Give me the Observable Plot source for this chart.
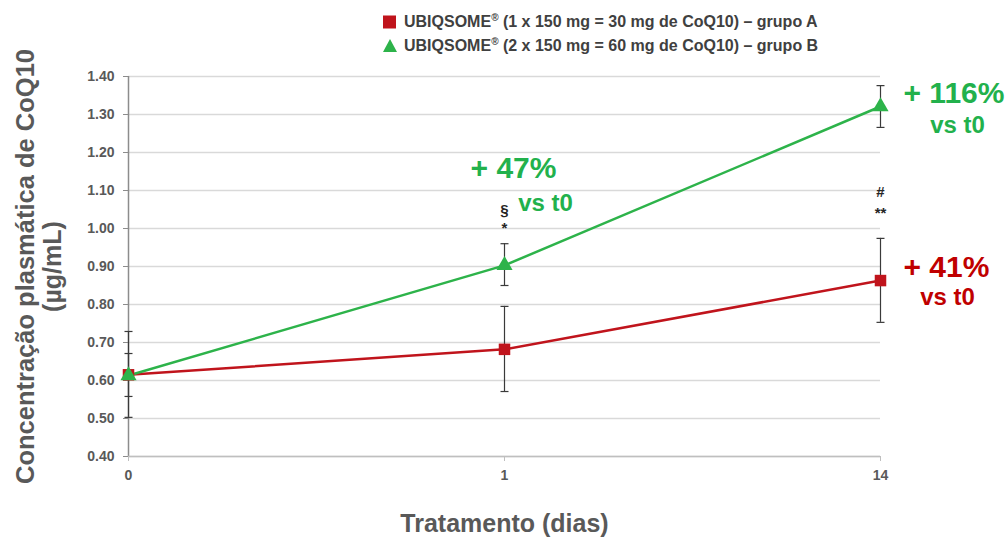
<!DOCTYPE html>
<html>
<head>
<meta charset="utf-8">
<script src="https://cdn.jsdelivr.net/npm/d3@7"></script>
<script src="https://cdn.jsdelivr.net/npm/@observablehq/plot@0.6"></script>
<style>
  html, body { margin: 0; padding: 0; background: #fff; }
  #wrap { position: relative; width: 1008px; height: 538px; font-family: "Liberation Sans", Arial, sans-serif; }
  #legend { position: absolute; left: 0; top: 0; width: 1008px; height: 60px; }
  .leg { position: absolute; left: 383px; height: 20px; display: flex; align-items: center; font-size: 16px; font-weight: bold; color: #404040; white-space: nowrap; }
  #chart { position: absolute; left: 0; top: 60px; }
</style>
</head>
<body>
<div id="wrap">
  <div id="legend"></div>
  <div id="chart"></div>
</div>
<script>
// ---- data ----
const days = ["0", "1", "14"];
const seriesNames = [
  "UBIQSOME® (1 x 150 mg = 30 mg de CoQ10) – grupo A",
  "UBIQSOME® (2 x 150 mg = 60 mg de CoQ10) – grupo B"
];
const groupA = [0.615, 0.682, 0.863];
const groupA_lo = [0.503, 0.571, 0.753];
const groupA_hi = [0.729, 0.795, 0.974];
const groupB = [0.613, 0.903, 1.321];
const groupB_lo = [0.558, 0.850, 1.266];
const groupB_hi = [0.671, 0.960, 1.376];
const yTicks = [0.40, 0.50, 0.60, 0.70, 0.80, 0.90, 1.00, 1.10, 1.20, 1.30, 1.40];
const xTitle = "Tratamento (dias)";
const yTitle1 = "Concentração plasmática de CoQ10";
const yTitle2 = "(µg/mL)";
// significance marks
const sigMarks = [
  {day: "1", y: 1.047, text: "§"},
  {day: "1", y: 1.000, text: "*"},
  {day: "14", y: 1.095, text: "#"},
  {day: "14", y: 1.039, text: "**"}
];
// percent change annotations
const pctB = [{day: "1", y: 1.158, text: "+ 47%"}, {day: "14", y: 1.355, text: "+ 116%"}];
const vsB = [{day: "1", y: 1.066, text: "vs t0"}, {day: "14", y: 1.271, text: "vs t0"}];
const pctA = [{day: "14", y: 0.897, text: "+ 41%"}];
const vsA = [{day: "14", y: 0.818, text: "vs t0"}];

const RED = "#C0141C";
const GREEN = "#2DB34A";
const RED_TXT = "#C00000";
const GREEN_TXT = "#22B14C";

const rows = [];
days.forEach((d, i) => {
  rows.push({day: d, group: "A", v: groupA[i], lo: groupA_lo[i], hi: groupA_hi[i]});
});
days.forEach((d, i) => {
  rows.push({day: d, group: "B", v: groupB[i], lo: groupB_lo[i], hi: groupB_hi[i]});
});
const rowsA = rows.filter(r => r.group === "A");
const rowsB = rows.filter(r => r.group === "B");

// legend
const legend = document.getElementById("legend");
[[RED, "square"], [GREEN, "triangle"]].forEach(([c, shape], i) => {
  const row = document.createElement("div");
  row.className = "leg";
  row.style.top = (12 + i * 24) + "px";
  const sw = shape === "square"
    ? `<svg width="21" height="16"><rect x="0" y="1.5" width="13" height="13" fill="${c}"/></svg>`
    : `<svg width="21" height="16"><path d="M7,1 L14,14 L0,14 Z" fill="${c}"/></svg>`;
  row.innerHTML = sw + `<span>${seriesNames[i].replace("®", "<sup style='font-size:10px'>®</sup>")}</span>`;
  legend.appendChild(row);
});

const capSymbol = {
  draw(ctx, size) {
    const r = Math.sqrt(size / Math.PI);
    ctx.moveTo(-r, 0);
    ctx.lineTo(r, 0);
  }
};

const yDomain = [0.4, 1.4];
const yMid = d3.mean(yDomain);

const chart = Plot.plot({
  width: 1008,
  height: 478,
  marginTop: 16,
  marginBottom: 82,
  marginLeft: 128,
  marginRight: 128,
  style: {fontFamily: "'Liberation Sans', Arial, sans-serif", background: "white", overflow: "visible"},
  x: {type: "point", domain: days, padding: 0, label: null},
  y: {domain: yDomain, label: null},
  marks: [
    Plot.gridY(yTicks, {stroke: "#D9D9D9", strokeOpacity: 1, strokeWidth: 1.5}),
    Plot.ruleX([days[0]], {stroke: "#8C8C8C", strokeWidth: 1.5}),
    Plot.ruleY([yDomain[0]], {stroke: "#BFBFBF", strokeWidth: 1.5}),
    Plot.axisY({ticks: yTicks, tickFormat: d3.format(".2f"), tickSize: 5, tickPadding: 9, stroke: "#8C8C8C", fill: "#595959", fontSize: 14, fontWeight: "bold"}),
    Plot.axisX({tickSize: 5, tickPadding: 9, stroke: "#BFBFBF", fill: "#595959", fontSize: 14, fontWeight: "bold"}),
    // error bars
    Plot.ruleX(rows, {x: "day", y1: "lo", y2: "hi", stroke: "#3A3A3A", strokeWidth: 1.2}),
    Plot.dot(rows, {x: "day", y: "lo", symbol: capSymbol, r: 4, stroke: "#3A3A3A", strokeWidth: 1.2, fill: "none"}),
    Plot.dot(rows, {x: "day", y: "hi", symbol: capSymbol, r: 4, stroke: "#3A3A3A", strokeWidth: 1.2, fill: "none"}),
    // lines
    Plot.line(rowsA, {x: "day", y: "v", stroke: RED, strokeWidth: 2.5}),
    Plot.line(rowsB, {x: "day", y: "v", stroke: GREEN, strokeWidth: 2.5}),
    Plot.dot(rowsA, {x: "day", y: "v", symbol: "square", r: 6.5, fill: RED, stroke: "none"}),
    Plot.dot(rowsB, {x: "day", y: "v", symbol: "triangle", r: 6, fill: GREEN, stroke: "none"}),
    // significance
    Plot.text(sigMarks, {x: "day", y: "y", text: "text", fontSize: 15, fontWeight: "bold", fill: "#262626"}),
    // percent annotations
    Plot.text(pctB.slice(0, 1), {x: "day", y: "y", text: "text", fontSize: 30, fontWeight: "bold", fill: GREEN_TXT, dx: 9}),
    Plot.text(vsB.slice(0, 1), {x: "day", y: "y", text: "text", fontSize: 24, fontWeight: "bold", fill: GREEN_TXT, dx: 41}),
    Plot.text(pctB.slice(1), {x: "day", y: "y", text: "text", fontSize: 30, fontWeight: "bold", fill: GREEN_TXT, textAnchor: "start", dx: 23}),
    Plot.text(vsB.slice(1), {x: "day", y: "y", text: "text", fontSize: 24, fontWeight: "bold", fill: GREEN_TXT, dx: 77}),
    Plot.text(pctA, {x: "day", y: "y", text: "text", fontSize: 30, fontWeight: "bold", fill: RED_TXT, textAnchor: "start", dx: 23}),
    Plot.text(vsA, {x: "day", y: "y", text: "text", fontSize: 24, fontWeight: "bold", fill: RED_TXT, dx: 67}),
    // axis titles
    Plot.text([xTitle], {frameAnchor: "bottom", text: d => d, dy: 75, fontSize: 25, fontWeight: "bold", fill: "#595959"}),
    Plot.text([yTitle1], {x: () => days[0], y: () => yMid, text: d => d, dx: -103, rotate: -90, fontSize: 25.5, fontWeight: "bold", fill: "#595959"}),
    Plot.text([yTitle2], {x: () => days[0], y: () => yMid, text: d => d, dx: -76, rotate: -90, fontSize: 25, fontWeight: "bold", fill: "#595959"})
  ]
});
document.getElementById("chart").appendChild(chart);
</script>
</body>
</html>
